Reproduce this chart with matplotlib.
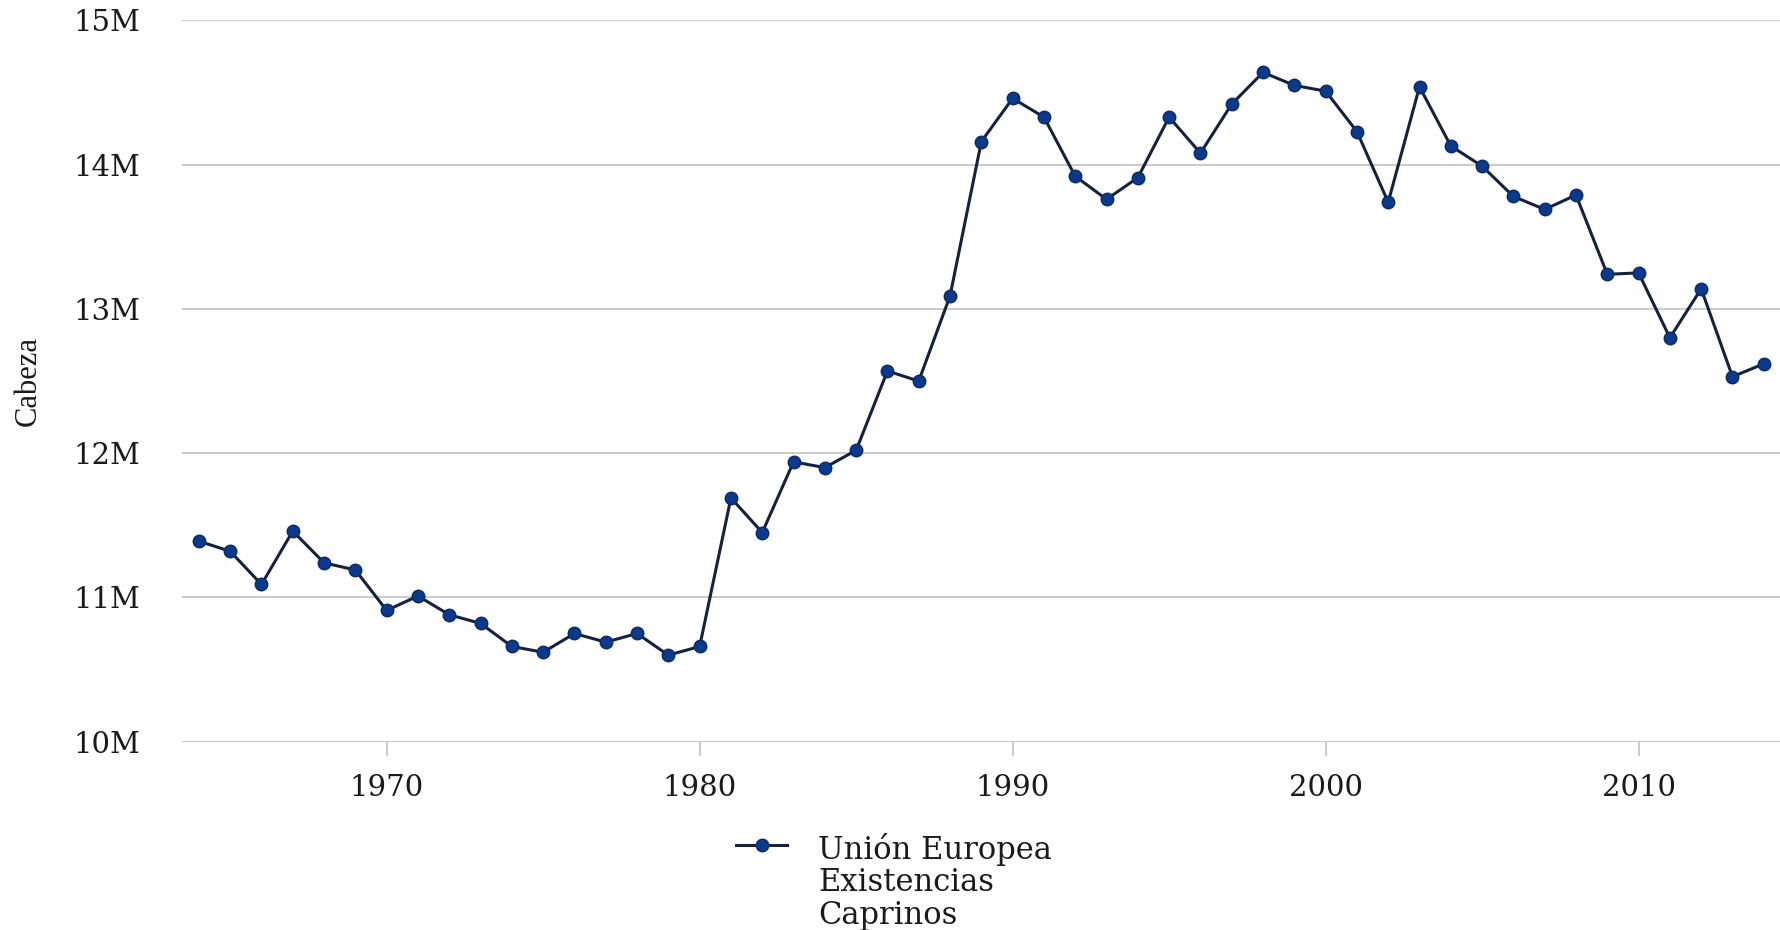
"""EU goat stock (Unión Europea, existencias caprinos), 1964-2014."""

import matplotlib
matplotlib.use('Agg')
import matplotlib.pyplot as plt
from matplotlib.legend_handler import HandlerLine2D
from matplotlib.ticker import FuncFormatter


YEARS = list(range(1964, 2015))

# head count, millions
GOATS_M = [
    11.39, 11.32, 11.09, 11.46, 11.24, 11.19, 10.91, 11.01, 10.88, 10.82,
    10.66, 10.62, 10.75, 10.69, 10.75, 10.60, 10.66, 11.69, 11.45, 11.94,
    11.90, 12.02, 12.57, 12.50, 13.09, 14.16, 14.46, 14.33, 13.92, 13.76,
    13.91, 14.33, 14.08, 14.42, 14.64, 14.55, 14.51, 14.23, 13.74, 14.54,
    14.13, 13.99, 13.78, 13.69, 13.79, 13.24, 13.25, 12.80, 13.14, 12.53,
    12.62,
]

X_TICKS = [1970, 1980, 1990, 2000, 2010]
Y_TICKS = [10e6, 11e6, 12e6, 13e6, 14e6, 15e6]

SERIES_LABEL = 'Unión Europea\nExistencias\nCaprinos'
Y_LABEL = 'Cabeza'

LINE_COLOR = '#15223d'
MARKER_FACE = '#0b3a8c'
MARKER_EDGE = '#0a2a66'
GRID_COLOR = '#cccccc'
TEXT_COLOR = '#1a1a1a'

LEGEND_FONTSIZE = 22
LEGEND_LINESPACING = 1.05


class FirstLineHandler(HandlerLine2D):
    """Put the legend marker next to the first line of a multi-line label."""

    def __init__(self, shift, **kw):
        super().__init__(**kw)
        self.shift = shift

    def create_artists(self, legend, orig_handle, xdescent, ydescent,
                       width, height, fontsize, trans):
        return super().create_artists(legend, orig_handle, xdescent,
                                      ydescent - self.shift, width, height,
                                      fontsize, trans)


def millions(v, _pos):
    return f'{v / 1e6:.0f}M'


def main():
    plt.rcParams['font.family'] = ['DejaVu Serif']

    fig = plt.figure(figsize=(17.81, 9.30), dpi=100)
    ax = fig.add_axes([0.102, 0.2025, 0.898, 0.7755])

    values = [v * 1e6 for v in GOATS_M]
    line, = ax.plot(YEARS, values, color=LINE_COLOR, linewidth=2.2,
                    marker='o', markersize=9, markerfacecolor=MARKER_FACE,
                    markeredgecolor=MARKER_EDGE, markeredgewidth=1.0,
                    label=SERIES_LABEL, zorder=3)

    ax.set_xlim(1963.45, 2014.55)
    ax.set_ylim(10e6, 15e6)
    ax.set_xticks(X_TICKS)
    ax.set_yticks(Y_TICKS)
    ax.yaxis.set_major_formatter(FuncFormatter(millions))

    ax.grid(axis='y', color=GRID_COLOR, linewidth=1.5)
    ax.set_axisbelow(True)
    for side in ('top', 'right', 'left', 'bottom'):
        ax.spines[side].set_visible(False)

    ax.tick_params(axis='y', length=0, pad=30, labelsize=21, labelcolor=TEXT_COLOR)
    ax.tick_params(axis='x', length=10, width=1.5, color=GRID_COLOR, pad=13,
                   labelsize=21, labelcolor=TEXT_COLOR)

    ax.set_ylabel(Y_LABEL, family='Liberation Serif', fontsize=22,
                  color=TEXT_COLOR, labelpad=0)
    ax.yaxis.set_label_coords(-0.087, 0.5)

    shift = 2 * LEGEND_FONTSIZE * LEGEND_LINESPACING * 1.2
    leg = fig.legend(handles=[line], loc='upper left',
                     bbox_to_anchor=(0.413, 0.104),
                     frameon=False, fontsize=LEGEND_FONTSIZE, handlelength=1.7,
                     handletextpad=1.0, borderpad=0, borderaxespad=0,
                     handler_map={line: FirstLineHandler(shift)})
    for txt in leg.get_texts():
        txt.set_linespacing(LEGEND_LINESPACING)
        txt.set_color(TEXT_COLOR)

    fig.savefig('out.png', dpi=100, facecolor='white')
    plt.close(fig)


if __name__ == '__main__':
    main()
